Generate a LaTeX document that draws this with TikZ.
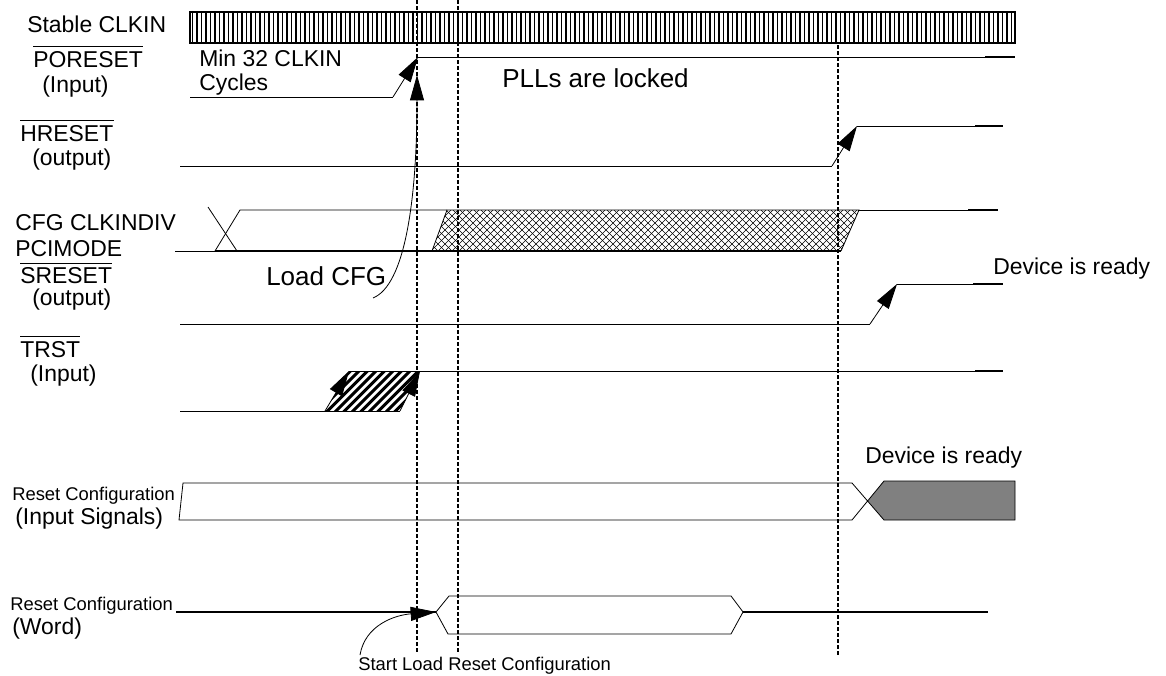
\documentclass[tikz,border=0pt]{standalone}
\usepackage{fontspec}
\setmainfont{Liberation Sans}
\usetikzlibrary{arrows.meta}
\begin{document}
\begin{tikzpicture}[x=0.75pt,y=-0.75pt,
  big/.style={font=\fontsize{17.2}{20}\selectfont, inner sep=0pt, anchor=base west},
  bigger/.style={font=\fontsize{19.5}{22}\selectfont, inner sep=0pt, anchor=base west},
  small/.style={font=\fontsize{13.8}{16}\selectfont, inner sep=0pt, anchor=base west},
  sig/.style={line width=0.6pt},
  sigend/.style={line width=1.3pt},
  thick sig/.style={line width=1.1pt},
  tip/.style={-{Triangle[length=19pt,width=10.5pt]}},
  marker/.style={line width=1.4pt, dash pattern=on 3pt off 1.5pt},
  ovl/.style={line width=0.8pt}]
\useasboundingbox (0,0) rectangle (1166,675);

% ---------- labels ----------
\node[big] (clk) at (27,32) {Stable CLKIN};
\node[big] (po) at (33,67) {PORESET};
\draw[ovl] ([yshift=3pt]po.north west) -- ([yshift=3pt]po.north east);
\node[big] (poin) at (42,92) {(Input)};
\node[big] (min) at (199,66) {Min 32 CLKIN};
\node[big] (cyc) at (199,90) {Cycles};
\node[bigger] (pll) at (502,87) {PLLs are locked};
\node[big] (hr) at (20,141) {HRESET};
\draw[ovl] ([yshift=3pt]hr.north west) -- ([yshift=3pt]hr.north east);
\node[big] (hrout) at (32,165) {(output)};
\node[big] (cfg) at (15,230) {CFG CLKINDIV};
\node[big] (pci) at (15,256) {PCIMODE};
\node[bigger] (load) at (266,285) {Load CFG};
\node[big] (sr) at (20,283) {SRESET};
\draw[ovl] ([yshift=2.6pt]sr.north west) -- ([yshift=2.6pt]sr.north east);
\node[big] (srout) at (32,305) {(output)};
\node[big] (dev1) at (993,274) {Device is ready};
\node[big] (tr) at (20,357) {TRST};
\draw[ovl] ([yshift=3pt]tr.north west) -- ([yshift=3pt]tr.north east);
\node[big] (trin) at (30,381) {(Input)};
\node[big] (dev2) at (865,463) {Device is ready};
\node[small] (rc1) at (12,500) {Reset Configuration};
\node[big] (ris) at (15,524) {(Input Signals)};
\node[small] (rc2) at (10,610) {Reset Configuration};
\node[big] (rw) at (12,634) {(Word)};
\node[small] (slr) at (358,670) {Start Load Reset Configuration};

% ---------- Stable CLKIN ----------
\draw[line width=0.9pt] (190,12) rectangle (1015,43);
\foreach \i in {0,...,182} \draw[line width=1.2pt] ({192.5+\i*4.5},12) -- ({192.5+\i*4.5},43);

% ---------- PORESET ----------
\coordinate (poA) at (393,97);
\coordinate (poB) at (418,57);
\draw[sig] (190,97) -- (poA);
\draw[sig,tip] (poA) -- (poB);
\draw[sig] (poB) -- (1015,57);
\draw[sigend] (985,57) -- (1015,57);

% ---------- HRESET ----------
\coordinate (hrA) at (832,166);
\coordinate (hrB) at (857,126);
\draw[sig] (180,166) -- (hrA);
\draw[sig,tip] (hrA) -- (hrB);
\draw[sig] (hrB) -- (1003,126);
\draw[sigend] (975,126) -- (1003,126);

% ---------- CFG ----------
\draw[sig] (175,251) -- (215,251);
\draw[sig] (208,207) -- (237,251);
\draw[sig] (215,251) -- (240,210) -- (447,210);
\begin{scope}
  \clip (432,251) -- (447,210) -- (859,210) -- (841,251) -- cycle;
  \foreach \i in {0,...,78} {
    \draw[line width=0.45pt] ({370+\i*7},256) -- ++(52,-52);
    \draw[line width=0.45pt] ({370+\i*7},204) -- ++(52,52);
  }
\end{scope}
\draw[sig] (432,251) -- (447,210) -- (859,210) -- (841,251);
\draw[sig] (859,210) -- (998,210);
\draw[sigend] (968,210) -- (998,210);
\draw[thick sig] (215,251) -- (841,251);

% ---------- SRESET ----------
\coordinate (srA) at (870,324);
\coordinate (srB) at (897,284);
\draw[sig] (180,324) -- (srA);
\draw[sig,tip] (srA) -- (srB);
\draw[sig] (srB) -- (1003,284);
\draw[sigend] (973,284) -- (1003,284);

% ---------- TRST ----------
\coordinate (trA) at (325,411);
\coordinate (trB) at (349,371);
\coordinate (trC) at (400,411);
\coordinate (trD) at (420,371);
\draw[sig] (180,411) -- (trA);
\begin{scope}
  \clip (trA) -- (trB) -- (trD) -- (trC) -- cycle;
  \foreach \i in {0,...,22} \draw[line width=2.2pt] ({280+\i*8.5},416) -- ++(50,-50);
\end{scope}
\draw[sig] (trA) -- (trC);
\draw[sig] (trB) -- (trD);
\draw[sig,tip] (trA) -- (trB);
\draw[sig,tip] (trC) -- (trD);
\draw[sig] (trD) -- (1003,371);
\draw[sigend] (975,371) -- (1003,371);

% ---------- Reset Configuration (Input Signals) ----------
\draw[sig] (852,483) -- (183,483) -- (179,520) -- (852,520);
\fill[gray] (868,501) -- (884,481) -- (1015,481) -- (1015,520) -- (884,520) -- cycle;
\draw[sig] (852,483) -- (884,520) -- (1015,520) -- (1015,481) -- (884,481) -- (852,520);

% ---------- Reset Configuration (Word) ----------
\coordinate (wA) at (436,612);
\coordinate (wB) at (743,612);
\draw[thick sig] (176,612) -- (wA);
\draw[sig] (wA) -- (449,596) -- (731,596) -- (wB) -- (731,634) -- (448,634) -- cycle;
\draw[thick sig] (wB) -- (988,612);

% ---------- pointer arrows ----------
\coordinate (lcS) at (373,298);
\coordinate (lcE) at (417,75);
\draw[sig,tip] (lcS) .. controls (405,285) and (417,200) .. (lcE);
\coordinate (slS) at (360,655);
\draw[sig,tip] (slS) .. controls (365,625) and (395,615) .. (wA);

% ---------- dashed markers ----------
\draw[marker] (417,0) -- (417,652);
\draw[marker] (458,0) -- (458,652);
\draw[marker] (838,45) -- (838,655);
\end{tikzpicture}
\end{document}
